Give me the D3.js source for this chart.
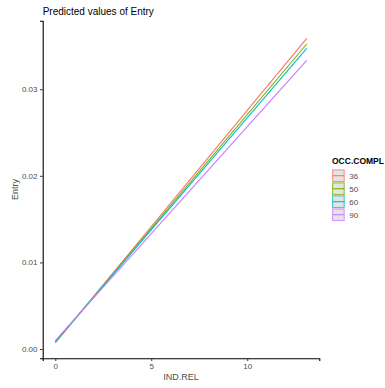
<!DOCTYPE html>
<html>
<head>
<meta charset="utf-8">
<script src="https://cdn.jsdelivr.net/npm/d3@7"></script>
<style>
  body { margin: 0; background: #fff; }
  svg { font-family: "Liberation Sans", Arial, sans-serif; }
</style>
</head>
<body>
<div class="chart"></div>
<script>
"use strict";

// data
var indRel = [0, 13.1];
var occCompl = ["36", "50", "60", "90"];
var entry36 = [0.00070, 0.03588];
var entry50 = [0.00076, 0.03522];
var entry60 = [0.00082, 0.03472];
var entry90 = [0.00096, 0.03334];
var xTicks = [0, 5, 10];
var yTicks = [0, 0.01, 0.02, 0.03];
var colors = ["#F8766D", "#7CAE00", "#00BFC4", "#C77CFF"];

var series = [entry36, entry50, entry60, entry90].map(function(vals, i) {
    return {
        name: occCompl[i],
        color: colors[i],
        points: vals.map(function(v, j) { return { x: indRel[j], y: v }; })
    };
});

var width = 385, height = 388;
var panelLeft = 42.7, panelRight = 319.3, panelTop = 20.7, panelBottom = 358.3;

var svg = d3.select(".chart")
            .append("svg")
            .attr("width", width)
            .attr("height", height);

// ggplot-like 5% expansion
var xExt = [d3.min(indRel), d3.max(indRel)];
var xPad = (xExt[1] - xExt[0]) * 0.05;
var x = d3.scaleLinear()
          .domain([xExt[0] - xPad, xExt[1] + xPad])
          .range([panelLeft, panelRight]);

var y = d3.scaleLinear()
          .domain([-0.00107, 0.03791])
          .range([panelBottom, panelTop]);

var line = d3.line()
             .x(function(d) { return x(d.x); })
             .y(function(d) { return y(d.y); });

svg.selectAll("path.series")
   .data(series)
   .enter()
   .append("path")
   .attr("class", "series")
   .attr("d", function(d) { return line(d.points); })
   .attr("fill", "none")
   .attr("stroke", function(d) { return d.color; })
   .attr("stroke-width", 1.1);

// axes
var xAxis = svg.append("g")
               .attr("transform", "translate(0," + panelBottom + ")")
               .call(d3.axisBottom(x).tickValues(xTicks).tickSize(2.7).tickPadding(2.5)
                     .tickFormat(d3.format("d")));
var yAxis = svg.append("g")
               .attr("transform", "translate(" + panelLeft + ",0)")
               .call(d3.axisLeft(y).tickValues(yTicks).tickSize(2.7).tickPadding(2.5)
                     .tickFormat(d3.format(".2f")));

[xAxis, yAxis].forEach(function(ax) {
    ax.select(".domain").attr("stroke", "#000").attr("stroke-width", 1.1);
    ax.selectAll(".tick line").attr("stroke", "#333").attr("stroke-width", 1);
    ax.selectAll(".tick text")
      .attr("fill", "#4D4D4D")
      .style("font-size", "8px")
      .style("font-family", "Liberation Sans, Arial, sans-serif");
});

svg.append("text")
   .attr("x", panelLeft)
   .attr("y", 14.5)
   .attr("font-size", 10)
   .attr("fill", "#000")
   .text("Predicted values of Entry");

svg.append("text")
   .attr("x", (panelLeft + panelRight) / 2)
   .attr("y", 380)
   .attr("text-anchor", "middle")
   .attr("font-size", 9)
   .attr("fill", "#4D4D4D")
   .text("IND.REL");

svg.append("text")
   .attr("transform", "translate(18," + ((panelTop + panelBottom) / 2) + ") rotate(-90)")
   .attr("text-anchor", "middle")
   .attr("font-size", 9)
   .attr("fill", "#4D4D4D")
   .text("Entry");

// legend
var legend = svg.append("g").attr("transform", "translate(332,169.3)");

legend.append("text")
      .attr("x", 0)
      .attr("y", -5)
      .attr("font-size", 8.5)
      .attr("font-weight", "bold")
      .attr("fill", "#000")
      .text("OCC.COMPL");

var keys = legend.selectAll("g.key")
                 .data(series)
                 .enter()
                 .append("g")
                 .attr("class", "key")
                 .attr("transform", function(d, i) { return "translate(0," + (i * 13) + ")"; });

keys.append("rect")
    .attr("x", 0.6)
    .attr("y", 0.6)
    .attr("width", 11.6)
    .attr("height", 11.6)
    .attr("fill", "#E4E4E4")
    .attr("stroke", function(d) { return d.color; })
    .attr("stroke-opacity", 0.75)
    .attr("stroke-width", 1.1);

keys.append("line")
    .attr("x1", 0.6)
    .attr("x2", 12.2)
    .attr("y1", 6.4)
    .attr("y2", 6.4)
    .attr("stroke", function(d) { return d.color; })
    .attr("stroke-width", 1.1);

keys.append("text")
    .attr("x", 17.3)
    .attr("y", 9.3)
    .attr("font-size", 8)
    .attr("fill", "#4D4D4D")
    .text(function(d) { return d.name; });
</script>
</body>
</html>
